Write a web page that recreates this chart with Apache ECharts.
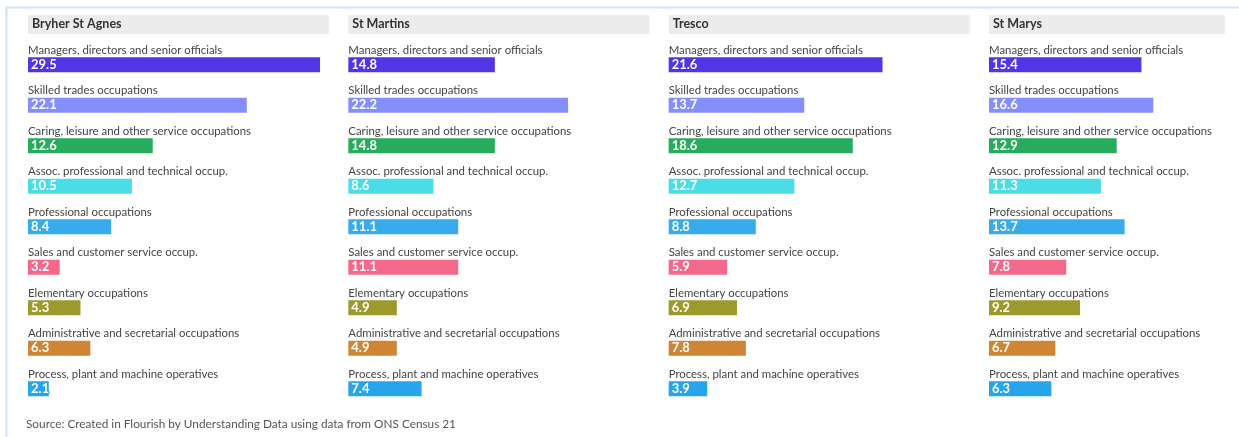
<!DOCTYPE html>
<html>
<head>
<meta charset="utf-8">
<script src="https://cdn.jsdelivr.net/npm/echarts@6/dist/echarts.min.js"></script>
<style>
html,body{margin:0;padding:0;background:#fff;}
#chart{width:1239px;height:437px;}
</style>
</head>
<body>
<div id="chart"></div>
<script>
const categories = [
  'Managers, directors and senior officials',
  'Skilled trades occupations',
  'Caring, leisure and other service occupations',
  'Assoc. professional and technical occup.',
  'Professional occupations',
  'Sales and customer service occup.',
  'Elementary occupations',
  'Administrative and secretarial occupations',
  'Process, plant and machine operatives'
];
const panels = ['Bryher St Agnes', 'St Martins', 'Tresco', 'St Marys'];
const bryherStAgnes = [29.5, 22.1, 12.6, 10.5, 8.4, 3.2, 5.3, 6.3, 2.1];
const stMartins = [14.8, 22.2, 14.8, 8.6, 11.1, 11.1, 4.9, 4.9, 7.4];
const tresco = [21.6, 13.7, 18.6, 12.7, 8.8, 5.9, 6.9, 7.8, 3.9];
const stMarys = [15.4, 16.6, 12.9, 11.3, 13.7, 7.8, 9.2, 6.7, 6.3];
const categoryColors = ['#5335e5', '#858ffc', '#27ac5e', '#4adde8', '#37abec', '#f4688b', '#9d9a2d', '#cf8634', '#26a4ec'];
const sourceText = 'Source: Created in Flourish by Understanding Data using data from ONS Census 21';

const panelValues = [bryherStAgnes, stMartins, tresco, stMarys];
const FONT = 'Lato';
const PX_PER_UNIT = 9.9;
const panelLeft = i => 28 + 320.33 * i;
const panelWidth = i => (i === 3 ? 236 : 301);

const grids = [], xAxes = [], yAxes = [], series = [], graphics = [];
panelValues.forEach((vals, i) => {
  const w = panelWidth(i);
  grids.push({left: panelLeft(i), width: w, top: 44.5, height: 364.5});
  xAxes.push({gridIndex: i, type: 'value', min: 0, max: w / PX_PER_UNIT, show: false});
  yAxes.push({
    gridIndex: i, type: 'category', inverse: true, data: categories,
    axisLine: {show: false}, axisTick: {show: false}, splitLine: {show: false},
    axisLabel: {inside: true, margin: 0, align: 'left', verticalAlign: 'bottom',
      padding: [0, 0, 9, 0], color: '#444', fontSize: 11.4, fontFamily: FONT}
  });
  series.push({
    type: 'bar', xAxisIndex: i, yAxisIndex: i, barWidth: 15, silent: true,
    data: vals.map((v, k) => ({
      value: v,
      itemStyle: {color: categoryColors[k]},
      label: {textBorderColor: categoryColors[k]}
    })),
    label: {show: true, position: 'insideLeft', distance: 3, color: '#fff',
      fontWeight: 'bold', fontSize: 13, fontFamily: FONT, textBorderWidth: 2,
      formatter: p => p.value.toFixed(1)}
  });
  graphics.push({type: 'rect', left: panelLeft(i), top: 15,
    shape: {width: w, height: 19}, style: {fill: '#ececec'}, silent: true});
  graphics.push({type: 'text', left: panelLeft(i) + 4, top: 17.5,
    style: {text: panels[i], fill: '#333', font: 'bold 12.5px ' + FONT}, silent: true});
});
graphics.push({type: 'line', shape: {x1: 6, y1: 7.5, x2: 1239, y2: 7.5},
  style: {stroke: '#d3e5f5', lineWidth: 2}, silent: true});
graphics.push({type: 'line', shape: {x1: 6.5, y1: 7, x2: 6.5, y2: 437},
  style: {stroke: '#d3e5f5', lineWidth: 2}, silent: true});
graphics.push({type: 'text', left: 26, top: 418,
  style: {text: sourceText, fill: '#555', font: '11.8px ' + FONT}, silent: true});

const chart = echarts.init(document.getElementById('chart'), null, {renderer: 'canvas'});
chart.setOption({
  animation: false,
  backgroundColor: '#fff',
  grid: grids, xAxis: xAxes, yAxis: yAxes, series: series, graphic: graphics
});
</script>
</body>
</html>
